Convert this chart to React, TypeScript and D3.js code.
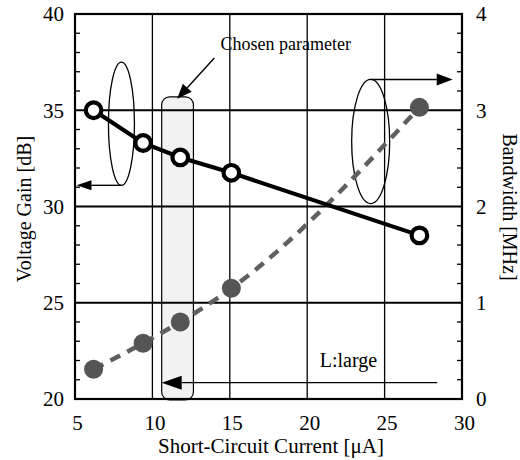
import * as d3 from 'd3'

const currentUA = [6.2, 9.4, 11.8, 15.1, 27.25]
const gainDB = [35.0, 33.3, 32.55, 31.75, 28.5]
const bandwidthMHz = [0.31, 0.58, 0.8, 1.15, 3.03]
const xTicks = [5, 10, 15, 20, 25, 30]
const gainTicks = [20, 25, 30, 35, 40]
const bwTicks = [0, 1, 2, 3, 4]

const W = 520
const H = 460
const margin = { top: 14, right: 58, bottom: 61, left: 75 }
const FONT = '"Liberation Serif", "DejaVu Serif", serif'

// line with a filled triangular head at (x2, y2)
function Arrow({ x1, y1, x2, y2, len = 15, half = 5.5, sw = 1.4 }: any) {
  const a = Math.atan2(y2 - y1, x2 - x1)
  const bx = x2 - len * Math.cos(a)
  const by = y2 - len * Math.sin(a)
  const px = -Math.sin(a) * half
  const py = Math.cos(a) * half
  return (
    <g>
      <line x1={x1} y1={y1} x2={bx} y2={by} stroke="#000" strokeWidth={sw} />
      <path d={`M${x2},${y2}L${bx + px},${by + py}L${bx - px},${by - py}Z`} fill="#000" />
    </g>
  )
}

export default function App() {
  const x = d3.scaleLinear().domain([5, 30]).range([margin.left, W - margin.right])
  const y = d3.scaleLinear().domain([20, 40]).range([H - margin.bottom, margin.top])
  const y2 = d3.scaleLinear().domain([0, 4]).range([H - margin.bottom, margin.top])
  const [x0, x1] = x.range()
  const [yb, yt] = y.range()

  const gainLine = d3
    .line<number>()
    .x((_, i) => x(currentUA[i]))
    .y((d) => y(d))
  const bwLine = d3
    .line<number>()
    .x((_, i) => x(currentUA[i]))
    .y((d) => y2(d))
    .curve(d3.curveMonotoneX)

  const minorGain = d3.range(21, 40, 1).filter((v) => v % 5 !== 0)
  const minorBw = d3.range(0.2, 4, 0.2).filter((v) => Math.abs(v - Math.round(v)) > 0.01)

  // annotation anchors (data units)
  const leftEll = { cx: 8.0, top: 37.5, bot: 31.1, rx: 13 }
  const rightEll = { cx: 24.1, top: 3.32, bot: 2.03, rx: 19 }
  const chosen = { x0: 10.6, x1: 12.65, top: 3.14 }

  return (
    <svg
      width={W}
      height={H}
      style={{ position: 'absolute', left: 0, top: 0, background: '#fff' }}
      fontFamily={FONT}
    >
      {/* chosen parameter box */}
      <rect
        x={x(chosen.x0)}
        y={y2(chosen.top)}
        width={x(chosen.x1) - x(chosen.x0)}
        height={yb - y2(chosen.top) + 1}
        rx={8}
        fill="#f2f2f2"
        stroke="#000"
        strokeWidth={1.2}
      />

      {/* grid */}
      {xTicks.slice(1, -1).map((t) => (
        <line key={'vx' + t} x1={x(t)} x2={x(t)} y1={yt} y2={yb} stroke="#000" strokeWidth={1.3} />
      ))}
      {gainTicks.slice(1, -1).map((t) => (
        <line key={'hy' + t} x1={x0} x2={x1} y1={y(t)} y2={y(t)} stroke="#000" strokeWidth={2} />
      ))}

      {/* minor ticks */}
      {minorGain.map((t) => (
        <line key={'mg' + t} x1={x0} x2={x0 + 5} y1={y(t)} y2={y(t)} stroke="#000" strokeWidth={1.3} />
      ))}
      {minorBw.map((t) => (
        <line key={'mb' + t} x1={x1} x2={x1 - 5} y1={y2(t)} y2={y2(t)} stroke="#000" strokeWidth={1.3} />
      ))}

      {/* frame */}
      <rect x={x0} y={yt} width={x1 - x0} height={yb - yt} fill="none" stroke="#000" strokeWidth={2.2} />

      {/* left ellipse + arrow */}
      <ellipse
        cx={x(leftEll.cx)}
        cy={(y(leftEll.top) + y(leftEll.bot)) / 2}
        rx={leftEll.rx}
        ry={(y(leftEll.bot) - y(leftEll.top)) / 2}
        fill="none"
        stroke="#000"
        strokeWidth={1.3}
      />
      <Arrow x1={x(leftEll.cx)} y1={y(leftEll.bot)} x2={x0 + 1.5} y2={y(leftEll.bot)} half={5} />

      {/* right ellipse + arrow */}
      <ellipse
        cx={x(rightEll.cx)}
        cy={(y2(rightEll.top) + y2(rightEll.bot)) / 2}
        rx={rightEll.rx}
        ry={(y2(rightEll.bot) - y2(rightEll.top)) / 2}
        fill="none"
        stroke="#000"
        strokeWidth={1.3}
      />
      <Arrow x1={x(rightEll.cx)} y1={y2(rightEll.top)} x2={x(29.4)} y2={y2(rightEll.top)} len={16} half={6} />

      {/* chosen parameter label + arrow */}
      <text x={x(18.62)} y={50} textAnchor="middle" fontSize={18}>
        Chosen parameter
      </text>
      <Arrow x1={x(14.0)} y1={58} x2={x(11.6)} y2={y2(chosen.top) + 2} len={15} half={6} />

      {/* L:large arrow */}
      <Arrow x1={x(28.4)} y1={y2(0.17)} x2={x(chosen.x0)} y2={y2(0.17)} len={20} half={7} />
      <text x={x(22.66)} y={366.5} textAnchor="middle" fontSize={20}>
        L:large
      </text>

      {/* bandwidth series */}
      <path d={bwLine(bandwidthMHz) ?? ''} fill="none" stroke="#606060" strokeWidth={4.5} strokeDasharray="11 8" />
      {bandwidthMHz.map((v, i) => (
        <circle key={'bw' + i} cx={x(currentUA[i])} cy={y2(v)} r={9.5} fill="#555" />
      ))}

      {/* gain series */}
      <path d={gainLine(gainDB) ?? ''} fill="none" stroke="#000" strokeWidth={4.2} />
      {gainDB.map((v, i) => (
        <circle key={'g' + i} cx={x(currentUA[i])} cy={y(v)} r={7.8} fill="#fff" stroke="#000" strokeWidth={4.2} />
      ))}

      {/* tick labels */}
      {gainTicks.map((t) => (
        <text key={'gl' + t} x={64} y={y(t)} dy="0.35em" textAnchor="end" fontSize={21}>
          {t}
        </text>
      ))}
      {bwTicks.map((t) => (
        <text key={'bl' + t} x={476} y={y2(t)} dy="0.35em" textAnchor="start" fontSize={21}>
          {t}
        </text>
      ))}
      {xTicks.map((t) => (
        <text key={'xl' + t} x={x(t) + 2.5} y={430} textAnchor="middle" fontSize={21}>
          {t}
        </text>
      ))}

      {/* axis titles */}
      <text x={271} y={453} textAnchor="middle" fontSize={21}>
        Short-Circuit Current [μA]
      </text>
      <text transform={`translate(31,209) rotate(-90)`} textAnchor="middle" fontSize={20}>
        Voltage Gain [dB]
      </text>
      <text transform={`translate(503,207) rotate(90)`} textAnchor="middle" fontSize={20}>
        Bandwidth [MHz]
      </text>
    </svg>
  )
}
